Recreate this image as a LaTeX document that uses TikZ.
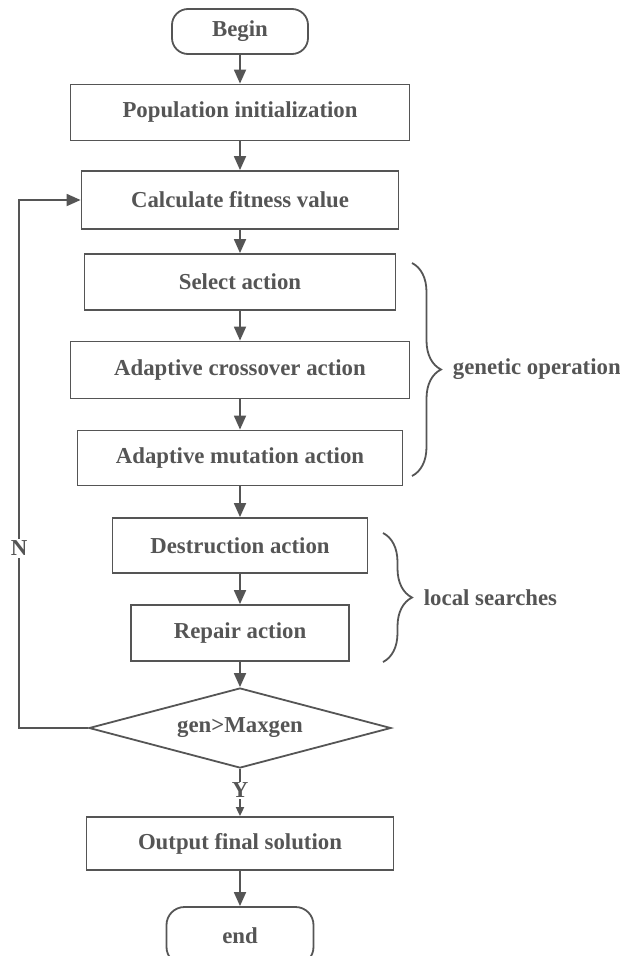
\documentclass[tikz,border=0pt]{standalone}
\usepackage{fontspec}
\setmainfont{Liberation Serif}
\usetikzlibrary{arrows.meta, shapes.geometric, decorations.pathreplacing}
\definecolor{flowgray}{RGB}{85,85,85}

\begin{document}
\begin{tikzpicture}[x=1pt, y=-1pt,
every node/.style={font=\bfseries\fontsize{22.8}{27}\selectfont, text=flowgray},
box/.style={draw=flowgray, line width=1.8pt, minimum height=56pt, inner sep=0pt},
term/.style={box, rounded corners=16pt},
test/.style={draw=flowgray, line width=1.8pt, diamond, aspect=3.8, inner sep=0pt, minimum width=302pt, minimum height=80pt},
arr/.style={draw=flowgray, line width=1.8pt, -{Triangle[length=14pt, width=12pt]}},
smallarr/.style={arr, -{Triangle[length=9pt, width=8pt]}},
brc/.style={draw=flowgray, line width=1.8pt, decorate, decoration={brace, amplitude=29pt}}]
\useasboundingbox (0,0) rectangle (619,956);
\node[term, minimum width=136pt, minimum height=45pt] (begin) at (240,31.5) {Begin};
\node[box, minimum width=339pt] (init) at (240,112.5) {Population initialization};
\node[box, minimum width=317pt, minimum height=58pt] (fit) at (240,200) {Calculate fitness value};
\node[box, minimum width=311pt] (sel) at (240,282) {Select action};
\node[box, minimum width=339pt, minimum height=57pt] (cross) at (240,370) {Adaptive crossover action};
\node[box, minimum width=325pt, minimum height=55pt] (mut) at (240,458) {Adaptive mutation action};
\node[box, minimum width=255pt, minimum height=55pt] (des) at (240,545.5) {Destruction action};
\node[box, minimum width=218pt] (rep) at (240,633) {Repair action};
\node[test] (gen) at (240,728) {gen>Maxgen};
\node[box, minimum width=307pt, minimum height=53pt] (out) at (240,843.5) {Output final solution};
\node[term, minimum width=147pt, minimum height=58pt, rounded corners=18pt] (stop) at (240,936) {end};
\foreach \a/\b in {begin/init, init/fit, fit/sel, sel/cross, cross/mut, mut/des, des/rep, rep/gen, out/stop}
	\draw[arr] (\a) -- (\b);
\draw[smallarr] (gen) -- node[pos=0.45, fill=white, inner sep=1pt] {Y} (out);
\coordinate (back) at (19,728);
\draw[arr] (gen.west) -- (back) |- node[pos=0.17, fill=white, inner sep=2pt] {N} (fit.west);
\coordinate (gtop) at (412,263);
\coordinate (gbot) at (412,476);
\coordinate (ltop) at (383,533);
\coordinate (lbot) at (383,662);
\draw[brc] (gtop) -- node[anchor=west, xshift=40pt, inner sep=0pt] {genetic operation} (gbot);
\draw[brc] (ltop) -- node[anchor=west, xshift=40pt, inner sep=0pt] {local searches} (lbot);
\end{tikzpicture}
\end{document}
